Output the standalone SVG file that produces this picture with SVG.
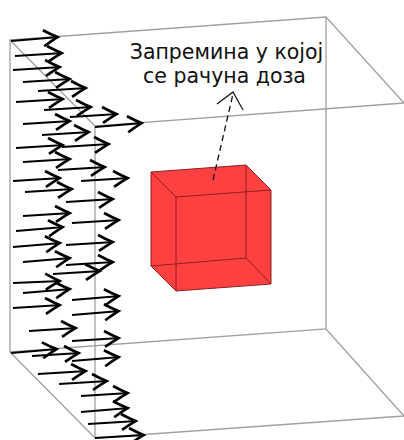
<svg xmlns="http://www.w3.org/2000/svg" width="404" height="440" viewBox="0 0 404 440">
<style>
.frame{fill:none;stroke:#a0a0a0;stroke-width:1.3}
.edge{fill:none;stroke:#8c1f22;stroke-width:1}
.ar{stroke:#050505;stroke-width:2;fill:none;marker-end:url(#head)}
text{font-family:"DejaVu Sans",sans-serif;font-size:20.5px;fill:#111;text-anchor:middle}
</style>
<defs>
<marker id="head" markerUnits="userSpaceOnUse" markerWidth="24" markerHeight="24" refX="18.5" refY="10" orient="auto" overflow="visible">
<path d="M3 2 Q11 7 17 10 Q11 13 3 18" fill="none" stroke="#050505" stroke-width="2.7"/>
</marker>
<filter id="soft" x="-5%" y="-5%" width="110%" height="110%"><feGaussianBlur stdDeviation="0.4"/></filter>
</defs>
<rect width="404" height="440" fill="#fff"/>
<g id="box" class="frame" filter="url(#soft)">
<path d="M10 40 L326 17 L326 329 L10 352 Z"/>
<path d="M404 103 L95 126 L95 438 L404 416"/>
<path d="M10 40 L95 126 M326 17 L404 103 M10 352 L95 438 M326 329 L404 416"/>
</g>
<g id="cube" filter="url(#soft)">
<path d="M151 172 L246 165 L271 190 L271 284 L176 291 L151 266 Z" fill="#ff4040"/>
<path class="edge" d="M151 172 L246 165 L271 190 L271 284 L176 291 L151 266 Z M176 197 L271 190 M176 197 L151 172 M176 197 L176 291 M246 165 L246 258 M246 258 L271 284 M246 258 L151 266"/>
</g>
<g id="connectors" filter="url(#soft)">
<line class="ar" x1="11" y1="41" x2="59" y2="37"/>
<line class="ar" x1="15" y1="56" x2="63" y2="53"/>
<line class="ar" x1="13" y1="70" x2="61" y2="67"/>
<line class="ar" x1="23" y1="82" x2="71" y2="79"/>
<line class="ar" x1="38" y1="91" x2="87" y2="88"/>
<line class="ar" x1="16" y1="102" x2="64" y2="99"/>
<line class="ar" x1="44" y1="110" x2="92" y2="107"/>
<line class="ar" x1="70" y1="117" x2="118" y2="114"/>
<line class="ar" x1="95" y1="127" x2="143" y2="123"/>
<line class="ar" x1="23" y1="124" x2="71" y2="121"/>
<line class="ar" x1="42" y1="135" x2="90" y2="132"/>
<line class="ar" x1="16" y1="148" x2="64" y2="145"/>
<line class="ar" x1="62" y1="147" x2="110" y2="144"/>
<line class="ar" x1="23" y1="162" x2="71" y2="159"/>
<line class="ar" x1="58" y1="170" x2="106" y2="167"/>
<line class="ar" x1="13" y1="181" x2="61" y2="178"/>
<line class="ar" x1="81" y1="181" x2="129" y2="178"/>
<line class="ar" x1="25" y1="192" x2="73" y2="189"/>
<line class="ar" x1="66" y1="202" x2="114" y2="199"/>
<line class="ar" x1="23" y1="216" x2="71" y2="213"/>
<line class="ar" x1="72" y1="223" x2="120" y2="220"/>
<line class="ar" x1="16" y1="231" x2="64" y2="227"/>
<line class="ar" x1="13" y1="247" x2="61" y2="243"/>
<line class="ar" x1="66" y1="245" x2="114" y2="242"/>
<line class="ar" x1="23" y1="262" x2="71" y2="258"/>
<line class="ar" x1="66" y1="265" x2="114" y2="262"/>
<line class="ar" x1="53" y1="274" x2="101" y2="271"/>
<line class="ar" x1="13" y1="283" x2="61" y2="281"/>
<line class="ar" x1="23" y1="293" x2="71" y2="289"/>
<line class="ar" x1="72" y1="300" x2="120" y2="296"/>
<line class="ar" x1="13" y1="308" x2="61" y2="305"/>
<line class="ar" x1="72" y1="315" x2="120" y2="311"/>
<line class="ar" x1="29" y1="331" x2="77" y2="328"/>
<line class="ar" x1="72" y1="341" x2="120" y2="338"/>
<line class="ar" x1="11" y1="353" x2="58" y2="349"/>
<line class="ar" x1="32" y1="356" x2="80" y2="353"/>
<line class="ar" x1="72" y1="361" x2="120" y2="357"/>
<line class="ar" x1="38" y1="374" x2="87" y2="371"/>
<line class="ar" x1="59" y1="384" x2="108" y2="381"/>
<line class="ar" x1="81" y1="396" x2="129" y2="393"/>
<line class="ar" x1="81" y1="412" x2="129" y2="408"/>
<line class="ar" x1="88" y1="424" x2="137" y2="421"/>
<line class="ar" x1="95" y1="438" x2="145" y2="435"/>
<path d="M213 180 L233 94" fill="none" stroke="#111" stroke-width="1.3" stroke-dasharray="6 4"/>
<path d="M217 104 L233 92 L243 110" fill="none" stroke="#111" stroke-width="1.2"/>
</g>
<g id="label">
<text x="226.5" y="58.5">Запремина у којој</text>
<text x="224.5" y="83">се рачуна доза</text>
</g>
</svg>
